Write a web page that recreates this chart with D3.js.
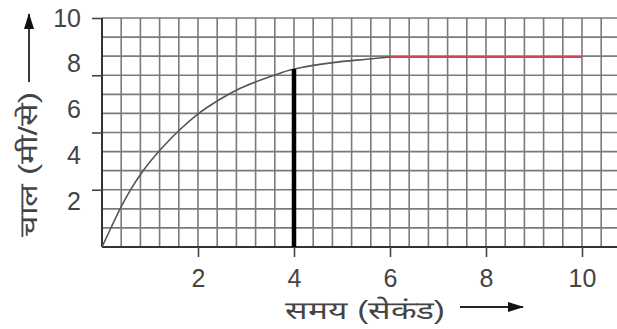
<!DOCTYPE html>
<html>
<head>
<meta charset="utf-8">
<script src="https://cdn.jsdelivr.net/npm/d3@7"></script>
<style>
  body { margin: 0; background: #fff; }
  text { font-family: "Liberation Sans", "DejaVu Sans", sans-serif; fill: #444; }
</style>
</head>
<body>
<svg></svg>
<script>
var width = 617,
    height = 329

// values
var timeSec = [0, 0.19, 0.40, 0.61, 0.82, 1.10, 1.38, 1.62, 1.97, 2.46, 2.88, 3.41, 3.92, 4.13, 4.81, 5.51, 6.0]
var speed = [0, 0.85, 1.76, 2.55, 3.22, 3.97, 4.62, 5.12, 5.76, 6.45, 6.93, 7.37, 7.73, 7.83, 8.05, 8.20, 8.3]
var plateauTime = [6, 10]
var plateauSpeed = 8.3
var markTime = 4
var markSpeed = 7.77
var xTicks = [2, 4, 6, 8, 10]
var yLabels = [2, 4, 6, 8, 10]
var yTickMarks = [2.5, 5, 7.5, 10]
var xTitle = "समय (सेकंड)"
var yTitle = "चाल (मी/से)"

document.addEventListener("DOMContentLoaded", function() {
    drawGraph()
})

function drawGraph() {
    var svg = d3.select("svg")
        .attr("width", width)
        .attr("height", height)

    var x = d3.scaleLinear().domain([0, 10]).range([102, 582])
    var y = d3.scaleLinear().domain([0, 10]).range([247, 18])

    var defs = svg.append("defs")
    defs.append("marker")
        .attr("id", "arrow")
        .attr("viewBox", "0 0 16 10")
        .attr("refX", 15).attr("refY", 5)
        .attr("markerWidth", 16).attr("markerHeight", 10)
        .attr("markerUnits", "userSpaceOnUse")
        .attr("orient", "auto")
        .append("path")
        .attr("d", "M0,0 L16,5 L0,10 z")
        .attr("fill", "#111")

    // grid
    var grid = svg.append("g").attr("stroke", "#7a7a7a").attr("stroke-width", 1.6)
    grid.selectAll(".v")
        .data(d3.range(0, 27).map(function(i) { return i * 0.4 }))
        .enter().append("line")
        .attr("x1", function(d) { return x(d) })
        .attr("x2", function(d) { return x(d) })
        .attr("y1", y(10))
        .attr("y2", y(0))
    grid.selectAll(".h")
        .data(d3.range(0, 13).map(function(i) { return i * 10 / 12 }))
        .enter().append("line")
        .attr("x1", x(0))
        .attr("x2", width)
        .attr("y1", function(d) { return y(d) })
        .attr("y2", function(d) { return y(d) })

    // axes
    svg.append("g")
        .attr("transform", "translate(0," + y(0) + ")")
        .call(d3.axisBottom(x).tickValues(xTicks).tickSize(10).tickPadding(12))
        .call(function(g) {
            g.select(".domain").attr("d", "M" + x(0) + ",0H" + width).attr("stroke", "#333").attr("stroke-width", 2)
            g.selectAll(".tick line").attr("stroke", "#444").attr("stroke-width", 1.6)
            g.selectAll("text").style("font-size", "25px").attr("fill", "#444")
        })

    svg.append("g")
        .attr("transform", "translate(" + x(0) + ",0)")
        .call(d3.axisLeft(y).tickValues(yTickMarks).tickSize(10).tickFormat(""))
        .call(function(g) {
            g.select(".domain").attr("d", "M0," + y(0) + "V" + y(10)).attr("stroke", "#333").attr("stroke-width", 2)
            g.selectAll(".tick line").attr("stroke", "#444").attr("stroke-width", 1.6)
        })

    svg.append("g")
        .attr("transform", "translate(" + x(0) + ",0)")
        .call(d3.axisLeft(y).tickValues(yLabels).tickSize(0).tickPadding(21))
        .call(function(g) {
            g.select(".domain").remove()
            g.selectAll("text").style("font-size", "25px").attr("fill", "#444")
        })

    // curve
    var line = d3.line()
        .x(function(d) { return x(d[0]) })
        .y(function(d) { return y(d[1]) })
        .curve(d3.curveMonotoneX)
    svg.append("path")
        .datum(d3.zip(timeSec, speed))
        .attr("d", line)
        .attr("fill", "none")
        .attr("stroke", "#555")
        .attr("stroke-width", 1.6)

    svg.append("line")
        .attr("x1", x(plateauTime[0])).attr("x2", x(plateauTime[1]))
        .attr("y1", y(plateauSpeed)).attr("y2", y(plateauSpeed))
        .attr("stroke", "#d0464a")
        .attr("stroke-width", 2)

    svg.append("line")
        .attr("x1", x(markTime)).attr("x2", x(markTime))
        .attr("y1", y(0)).attr("y2", y(markSpeed))
        .attr("stroke", "#000")
        .attr("stroke-width", 4.5)

    // titles
    svg.append("text")
        .attr("x", 285).attr("y", 319)
        .attr("textLength", 160)
        .attr("lengthAdjust", "spacingAndGlyphs")
        .style("font-size", "25px")
        .attr("fill", "#555")
        .text(xTitle)
    svg.append("line")
        .attr("x1", 460).attr("x2", 523)
        .attr("y1", 307).attr("y2", 307)
        .attr("stroke", "#222").attr("stroke-width", 1.8)
        .attr("marker-end", "url(#arrow)")

    svg.append("text")
        .attr("transform", "translate(37,237) rotate(-90)")
        .attr("textLength", 145)
        .attr("lengthAdjust", "spacingAndGlyphs")
        .style("font-size", "25px")
        .attr("fill", "#555")
        .text(yTitle)
    svg.append("line")
        .attr("x1", 29).attr("x2", 29)
        .attr("y1", 82).attr("y2", 14)
        .attr("stroke", "#222").attr("stroke-width", 1.8)
        .attr("marker-end", "url(#arrow)")
}
</script>
</body>
</html>
